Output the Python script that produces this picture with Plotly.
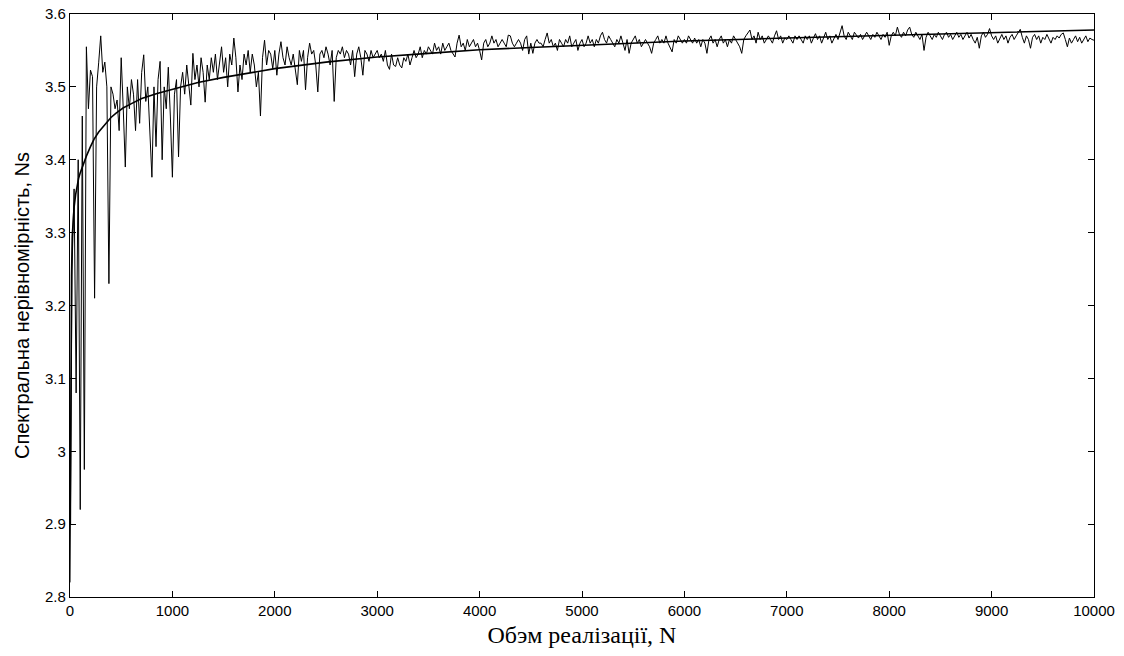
import plotly.graph_objects as go

# Noisy measured series (Ns), sampled every 20 units of N, segments of 1000
ns_0000 = [2.82, 3.25, 3.36, 3.08, 3.40, 2.92, 3.46, 2.975, 3.555, 3.47,
           3.523, 3.514, 3.21, 3.50, 3.533, 3.570, 3.52, 3.534, 3.50, 3.23,
           3.50, 3.49, 3.47, 3.482, 3.44, 3.54, 3.47, 3.39, 3.50, 3.47,
           3.51, 3.49, 3.44, 3.51, 3.45, 3.52, 3.544, 3.48, 3.50, 3.43,
           3.376, 3.50, 3.418, 3.51, 3.535, 3.40, 3.50, 3.47, 3.527, 3.46]
ns_1000 = [3.376, 3.49, 3.51, 3.404, 3.50, 3.52, 3.49, 3.53, 3.50, 3.475,
           3.546, 3.51, 3.53, 3.50, 3.54, 3.52, 3.479, 3.53, 3.51, 3.54,
           3.52, 3.545, 3.51, 3.53, 3.555, 3.52, 3.54, 3.50, 3.545, 3.53,
           3.567, 3.54, 3.493, 3.53, 3.51, 3.545, 3.53, 3.55, 3.52, 3.545,
           3.53, 3.50, 3.52, 3.46, 3.54, 3.564, 3.53, 3.55, 3.545, 3.525]
ns_2000 = [3.55, 3.516, 3.545, 3.562, 3.54, 3.53, 3.555, 3.54, 3.53, 3.545,
           3.52, 3.503, 3.55, 3.535, 3.55, 3.496, 3.54, 3.56, 3.545, 3.55,
           3.53, 3.493, 3.545, 3.55, 3.54, 3.555, 3.545, 3.53, 3.55, 3.48,
           3.54, 3.55, 3.545, 3.555, 3.54, 3.55, 3.545, 3.53, 3.55, 3.514,
           3.545, 3.555, 3.54, 3.516, 3.55, 3.545, 3.535, 3.55, 3.54, 3.545]
ns_3000 = [3.55, 3.54, 3.545, 3.535, 3.55, 3.53, 3.524, 3.545, 3.53, 3.528,
           3.54, 3.53, 3.526, 3.54, 3.535, 3.545, 3.53, 3.54, 3.55, 3.54,
           3.545, 3.555, 3.54, 3.55, 3.545, 3.555, 3.55, 3.545, 3.56, 3.55,
           3.555, 3.545, 3.56, 3.55, 3.555, 3.56, 3.55, 3.545, 3.541, 3.56,
           3.571, 3.555, 3.56, 3.55, 3.565, 3.555, 3.56, 3.565, 3.555, 3.56]
ns_4000 = [3.55, 3.537, 3.56, 3.565, 3.555, 3.56, 3.57, 3.56, 3.565, 3.555,
           3.56, 3.565, 3.56, 3.555, 3.571, 3.57, 3.56, 3.555, 3.56, 3.565,
           3.56, 3.55, 3.565, 3.57, 3.545, 3.56, 3.546, 3.56, 3.565, 3.56,
           3.56, 3.555, 3.565, 3.574, 3.56, 3.565, 3.555, 3.56, 3.55, 3.565,
           3.56, 3.555, 3.565, 3.56, 3.57, 3.555, 3.56, 3.565, 3.55, 3.56]
ns_5000 = [3.565, 3.555, 3.56, 3.57, 3.56, 3.565, 3.555, 3.565, 3.56, 3.57,
           3.575, 3.565, 3.56, 3.57, 3.565, 3.56, 3.555, 3.565, 3.56, 3.57,
           3.56, 3.55, 3.565, 3.546, 3.56, 3.565, 3.57, 3.56, 3.565, 3.555,
           3.56, 3.565, 3.56, 3.555, 3.546, 3.56, 3.565, 3.57, 3.56, 3.565,
           3.56, 3.57, 3.56, 3.555, 3.548, 3.565, 3.56, 3.57, 3.565, 3.56]
ns_6000 = [3.565, 3.56, 3.57, 3.565, 3.56, 3.567, 3.56, 3.565, 3.555, 3.565,
           3.56, 3.546, 3.565, 3.57, 3.56, 3.565, 3.555, 3.565, 3.57, 3.56,
           3.565, 3.555, 3.565, 3.56, 3.57, 3.565, 3.56, 3.555, 3.546, 3.565,
           3.57, 3.575, 3.578, 3.565, 3.57, 3.56, 3.575, 3.565, 3.57, 3.56,
           3.565, 3.57, 3.565, 3.56, 3.57, 3.577, 3.565, 3.57, 3.56, 3.567]
ns_7000 = [3.565, 3.57, 3.565, 3.56, 3.57, 3.565, 3.57, 3.565, 3.56, 3.57,
           3.565, 3.57, 3.56, 3.567, 3.573, 3.565, 3.57, 3.56, 3.568, 3.575,
           3.565, 3.57, 3.56, 3.567, 3.572, 3.565, 3.575, 3.584, 3.57, 3.565,
           3.575, 3.57, 3.565, 3.575, 3.57, 3.567, 3.572, 3.565, 3.57, 3.575,
           3.57, 3.565, 3.572, 3.568, 3.575, 3.57, 3.565, 3.572, 3.568, 3.575]
ns_8000 = [3.557, 3.57, 3.575, 3.57, 3.582, 3.572, 3.568, 3.575, 3.57, 3.578,
           3.582, 3.572, 3.568, 3.575, 3.57, 3.565, 3.572, 3.55, 3.568, 3.575,
           3.57, 3.565, 3.572, 3.568, 3.575, 3.57, 3.565, 3.572, 3.575, 3.568,
           3.572, 3.565, 3.57, 3.575, 3.568, 3.572, 3.565, 3.57, 3.575, 3.567,
           3.572, 3.565, 3.56, 3.568, 3.553, 3.57, 3.575, 3.568, 3.572, 3.58]
ns_9000 = [3.57, 3.565, 3.57, 3.56, 3.567, 3.572, 3.565, 3.57, 3.56, 3.568,
           3.572, 3.565, 3.57, 3.575, 3.579, 3.568, 3.56, 3.57, 3.565, 3.553,
           3.568, 3.572, 3.565, 3.57, 3.56, 3.568, 3.565, 3.572, 3.567, 3.56,
           3.568, 3.565, 3.57, 3.567, 3.572, 3.574, 3.565, 3.555, 3.567, 3.56,
           3.565, 3.57, 3.562, 3.568, 3.56, 3.565, 3.57, 3.562, 3.567, 3.565,
           3.564]

ns_values = (ns_0000 + ns_1000 + ns_2000 + ns_3000 + ns_4000 +
             ns_5000 + ns_6000 + ns_7000 + ns_8000 + ns_9000)
n_step = 20
n_values = [i * n_step for i in range(len(ns_values))]

# Smooth fitted curve
fit_n = [3, 8, 15, 22, 30, 40, 55, 70, 85, 100, 120, 137, 160, 200, 234, 280,
         330, 361, 400, 450, 518, 600, 700, 850, 1000, 1250, 1500, 1750, 2000,
         2500, 3000, 3500, 4000, 4500, 5000, 6000, 7000, 8000, 9000, 10000]
fit_ns = [2.90, 3.13, 3.24, 3.295, 3.318, 3.335, 3.352, 3.365, 3.375, 3.382,
          3.390, 3.396, 3.405, 3.418, 3.428, 3.438, 3.447, 3.452, 3.458, 3.464,
          3.471, 3.477, 3.484, 3.491, 3.497, 3.506, 3.513, 3.519, 3.525,
          3.534, 3.541, 3.546, 3.551, 3.554, 3.557, 3.563, 3.567, 3.571, 3.575, 3.578]

y_tick_vals = [2.8, 2.9, 3.0, 3.1, 3.2, 3.3, 3.4, 3.5, 3.6]
y_tick_text = ["2.8", "2.9", "3", "3.1", "3.2", "3.3", "3.4", "3.5", "3.6"]
x_tick_vals = [0, 1000, 2000, 3000, 4000, 5000, 6000, 7000, 8000, 9000, 10000]
x_tick_text = ["0", "1000", "2000", "3000", "4000", "5000", "6000", "7000",
               "8000", "9000", "10000"]

fig = go.Figure()
fig.add_trace(go.Scatter(x=n_values, y=ns_values, mode="lines",
                         line=dict(color="black", width=1), showlegend=False))
fig.add_trace(go.Scatter(x=fit_n, y=fit_ns, mode="lines",
                         line=dict(color="black", width=1.6),
                         showlegend=False))

axis_common = dict(showline=True, linecolor="black", linewidth=1.2, mirror="ticks",
                   ticks="inside", ticklen=6, tickcolor="black", tickwidth=1,
                   showgrid=False, zeroline=False, automargin=False,
                   tickfont=dict(family="Liberation Sans, Arial", size=15, color="black"))

fig.update_layout(
    width=1124, height=656,
    margin=dict(l=70, r=30, t=14, b=59),
    paper_bgcolor="white", plot_bgcolor="white",
    xaxis=dict(range=[0, 10000], tickvals=x_tick_vals, ticktext=x_tick_text,
               title=dict(text="Обэм реалізації, N", standoff=8,
                          font=dict(family="Liberation Serif, Times New Roman", size=24, color="black")),
               **axis_common),
    yaxis=dict(range=[2.8, 3.6], tickvals=y_tick_vals, ticktext=y_tick_text,
               title=dict(text="Спектральна нерівномірність, Ns", standoff=10,
                          font=dict(family="Liberation Sans, Arial", size=20, color="black")),
               **axis_common),
)

fig.write_html("out.html")
